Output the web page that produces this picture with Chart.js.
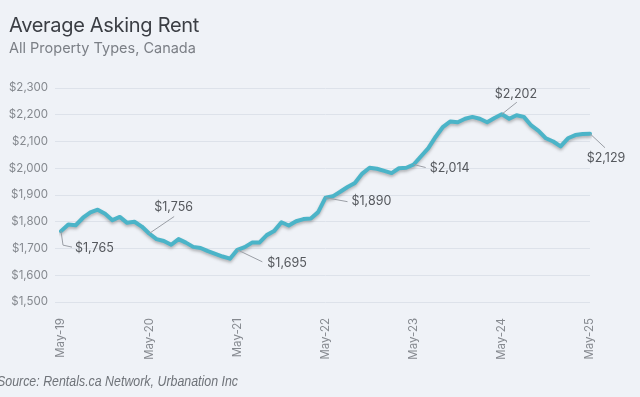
<!DOCTYPE html>
<html>
<head>
<meta charset="utf-8">
<title>Average Asking Rent</title>
<script src="https://cdn.jsdelivr.net/npm/chart.js@4.4.1/dist/chart.umd.min.js"></script>
<style>
  html, body { margin: 0; padding: 0; background: #eff2f7; overflow: hidden; }
  .wrap { position: relative; width: 640px; height: 397px; }
  #rentChart { position: absolute; left: 0; top: 0; }
  .title { position: absolute; left: 9px; top: 15px; font: 400 20px/1 Inter, sans-serif; letter-spacing: -0.3px; color: #3b3e44; white-space: nowrap; }
  .subtitle { position: absolute; left: 9px; top: 41px; font: 400 14.5px/1 Inter, sans-serif; color: #7b7f86; white-space: nowrap; }
  .source { position: absolute; left: -3px; top: 374px; font: italic 400 14px/1 "Liberation Sans Narrow", "Liberation Sans", sans-serif; color: #6f7379; white-space: nowrap; transform-origin: 0 0; }
</style>
</head>
<body>
<div class="wrap">
  <canvas id="rentChart" width="640" height="397"></canvas>
  <div class="title">Average Asking Rent</div>
  <div class="subtitle">All Property Types, Canada</div>
  <div class="source" id="source">Source: Rentals.ca Network, Urbanation Inc</div>
</div>
<script>
// monthly categories, May 2019 to May 2025
const months = [
  "May-19", "Jun-19", "Jul-19", "Aug-19", "Sep-19", "Oct-19", "Nov-19", "Dec-19",
  "Jan-20", "Feb-20", "Mar-20", "Apr-20", "May-20", "Jun-20", "Jul-20", "Aug-20", "Sep-20", "Oct-20", "Nov-20", "Dec-20",
  "Jan-21", "Feb-21", "Mar-21", "Apr-21", "May-21", "Jun-21", "Jul-21", "Aug-21", "Sep-21", "Oct-21", "Nov-21", "Dec-21",
  "Jan-22", "Feb-22", "Mar-22", "Apr-22", "May-22", "Jun-22", "Jul-22", "Aug-22", "Sep-22", "Oct-22", "Nov-22", "Dec-22",
  "Jan-23", "Feb-23", "Mar-23", "Apr-23", "May-23", "Jun-23", "Jul-23", "Aug-23", "Sep-23", "Oct-23", "Nov-23", "Dec-23",
  "Jan-24", "Feb-24", "Mar-24", "Apr-24", "May-24", "Jun-24", "Jul-24", "Aug-24", "Sep-24", "Oct-24", "Nov-24", "Dec-24",
  "Jan-25", "Feb-25", "Mar-25", "Apr-25", "May-25"
];

// average asking rent ($)
const rent = [
  1765, 1790, 1787, 1815, 1835, 1845, 1830, 1806,
  1818, 1796, 1800, 1782, 1756, 1735, 1728, 1714, 1735, 1722, 1706, 1702,
  1690, 1680, 1670, 1662, 1695, 1705, 1722, 1722, 1750, 1765, 1798, 1786,
  1802, 1810, 1812, 1836, 1890, 1895, 1912, 1930, 1945, 1980, 2002, 1998,
  1990, 1982, 2000, 2002, 2014, 2045, 2075, 2118, 2155, 2175, 2172, 2185,
  2192, 2185, 2172, 2188, 2202, 2185, 2198, 2192, 2160, 2140, 2112, 2100,
  2082, 2112, 2124, 2128, 2129
];

// axis ticks
const yTicks = [1500, 1600, 1700, 1800, 1900, 2000, 2100, 2200, 2300];
const xTickLabels = ["May-19", "May-20", "May-21", "May-22", "May-23", "May-24", "May-25"];

// months that get a value callout
const calloutMonths = ["May-19", "May-20", "May-21", "May-22", "May-23", "May-24", "May-25"];

// leader line + text placement for each callout (relative to the point)
const calloutStyle = [
  { path: [[2, 14], [11, 16]], text: [14, 17], align: "left" },
  { path: [[25, -17]], text: [5, -26], align: "left" },
  { path: [[25, 12]], text: [30, 13], align: "left" },
  { path: [[22, 4]], text: [26, 4], align: "left" },
  { path: [[12, 3]], text: [16, 4], align: "left" },
  { path: [[15, -12]], text: [14, -20], align: "center" },
  { path: [[15, 14]], text: [16, 24], align: "center" }
];

// squeeze the source line to the width it has in the original
let source = document.querySelector("#source");
let sourceWidth = source.getBoundingClientRect().width;
source.style.transform = "scaleX(" + (241 / sourceWidth).toFixed(3) + ")";

const money = (v) => "$" + Number(v).toLocaleString("en-US");

const lineShadow = {
  id: "lineShadow",
  beforeDatasetDraw(chart) {
    const ctx = chart.ctx;
    ctx.save();
    ctx.shadowColor = "rgba(60, 60, 60, 0.35)";
    ctx.shadowBlur = 3;
    ctx.shadowOffsetX = 0;
    ctx.shadowOffsetY = 2;
  },
  afterDatasetDraw(chart) {
    chart.ctx.restore();
  }
};

const callouts = {
  id: "callouts",
  afterDatasetsDraw(chart) {
    const ctx = chart.ctx;
    const xs = chart.scales.x;
    const ys = chart.scales.y;
    ctx.save();
    calloutMonths.forEach((m, k) => {
      const i = months.indexOf(m);
      const px = xs.getPixelForValue(i);
      const py = ys.getPixelForValue(rent[i]);
      const st = calloutStyle[k];
      // leader line
      ctx.strokeStyle = "#9a9ea5";
      ctx.lineWidth = 1;
      ctx.beginPath();
      ctx.moveTo(px, py);
      st.path.forEach((p) => ctx.lineTo(px + p[0], py + p[1]));
      ctx.stroke();
      // label
      ctx.fillStyle = "#55585d";
      ctx.font = "400 12.5px Inter, sans-serif";
      ctx.textAlign = st.align;
      ctx.textBaseline = "middle";
      ctx.fillText(money(rent[i]), px + st.text[0], py + st.text[1]);
    });
    ctx.restore();
  }
};

const data = {
  labels: months,
  datasets: [
    {
      label: "Average Asking Rent",
      data: rent,
      borderColor: "#4bb4c8",
      borderWidth: 4,
      borderJoinStyle: "round",
      borderCapStyle: "round",
      pointRadius: 0,
      tension: 0,
      fill: false,
    },
  ],
};

const config = {
  type: "line",
  data: data,
  options: {
    responsive: false,
    animation: false,
    layout: { padding: { top: 88, right: 50, bottom: 0, left: 0 } },
    plugins: {
      legend: { display: false },
      tooltip: { enabled: false },
    },
    scales: {
      x: {
        offset: false,
        grid: { display: false },
        border: { display: false },
        ticks: {
          autoSkip: false,
          maxRotation: 90,
          minRotation: 90,
          padding: 8,
          color: "#85898f",
          font: { family: "Inter", size: 11.5 },
          callback: function (value, index) {
            const lab = months[index];
            return xTickLabels.includes(lab) ? lab : "";
          },
        },
        afterFit: (scale) => { scale.height = 95; },
      },
      y: {
        min: 1500,
        max: 2300,
        afterBuildTicks: (scale) => { scale.ticks = yTicks.map((v) => ({ value: v })); },
        grid: { color: "#dde2ea", lineWidth: 1, tickLength: 6, tickColor: "#dde2ea" },
        border: { display: false },
        ticks: {
          padding: 7,
          color: "#85898f",
          font: { family: "Inter", size: 11.5 },
          callback: (v) => money(v),
        },
        afterFit: (scale) => { scale.width = 61; },
      },
    },
  },
  plugins: [lineShadow, callouts],
};

const rentChart = new Chart(document.getElementById("rentChart"), config);
</script>
</body>
</html>
